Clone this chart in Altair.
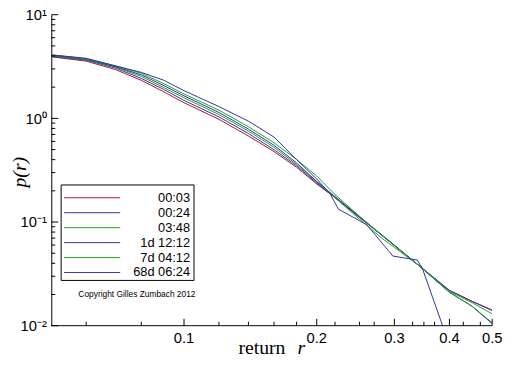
import altair as alt
import pandas as pd

series_names = ["00:03", "00:24", "03:48", "1d 12:12", "7d 04:12", "68d 06:24"]
series_colors = ["#b0102e", "#3232a0", "#20a020", "#3232a0", "#20a020", "#3232a0"]

x_grid = [0.05, 0.06, 0.07, 0.08, 0.09, 0.1, 0.12, 0.14, 0.16, 0.18, 0.2,
          0.22, 0.25, 0.28, 0.3, 0.34, 0.4, 0.45, 0.5]
y_0003 = [3.93, 3.565, 2.95, 2.33, 1.80, 1.415, 0.979, 0.676, 0.478, 0.3375, 0.233,
          0.172, 0.1114, 0.0754, 0.0594, 0.0384, 0.0219, 0.0172, 0.01416]
y_0024 = [3.97, 3.64, 3.05, 2.43, 1.90, 1.49, 1.034, 0.714, 0.499, 0.349, 0.238,
          0.172, 0.111, 0.0754, 0.0594, 0.0384, 0.0219, 0.0172, 0.0140]
y_0348 = [4.02, 3.68, 3.12, 2.54, 1.98, 1.58, 1.09, 0.754, 0.527, 0.360, 0.244,
          0.172, 0.1067, 0.0707, 0.0569, 0.0384, 0.0214, 0.0167, 0.0130]
y_1d = [4.06, 3.72, 3.15, 2.63, 2.07, 1.65, 1.14, 0.787, 0.550, 0.372, 0.246,
        0.176, 0.1126, 0.0762, 0.0600, 0.0384, 0.0210, 0.0154, 0.01044]
y_7d = [4.10, 3.76, 3.21, 2.72, 2.16, 1.72, 1.20, 0.831, 0.581, 0.402, 0.278,
        0.184, 0.1138, 0.0754, 0.0594, 0.0384, 0.0210, 0.0154, 0.01068]
x_68d = [0.05, 0.06, 0.07, 0.08, 0.09, 0.1, 0.12, 0.14, 0.16, 0.18, 0.2, 0.214,
         0.224, 0.26, 0.2975, 0.338, 0.347, 0.39]
y_68d = [4.10, 3.80, 3.20, 2.78, 2.33, 1.85, 1.30, 0.94, 0.66, 0.40, 0.26, 0.19,
         0.133, 0.094, 0.047, 0.043, 0.036, 0.0088]

x_labels = [0.1, 0.2, 0.3, 0.4, 0.5]
x_label_text = ["0.1", "0.2", "0.3", "0.4", "0.5"]
x_minor = [0.06, 0.08, 0.12, 0.14, 0.16, 0.18, 0.22, 0.25, 0.27, 0.33, 0.35, 0.37, 0.43, 0.47]
y_major = [0.01, 0.1, 1, 10]
y_minor = [0.02, 0.03, 0.04, 0.05, 0.06, 0.07, 0.08, 0.09,
           0.2, 0.3, 0.4, 0.5, 0.6, 0.7, 0.8, 0.9,
           2, 3, 4, 5, 6, 7, 8, 9]

rows = []
for name, ys in zip(series_names[:5], [y_0003, y_0024, y_0348, y_1d, y_7d]):
    for i, (xv, yv) in enumerate(zip(x_grid, ys)):
        rows.append({"series": name, "x": xv, "y": yv, "o": i})
for i, (xv, yv) in enumerate(zip(x_68d, y_68d)):
    rows.append({"series": series_names[5], "x": xv, "y": yv, "o": i})
df = pd.DataFrame(rows)

W, H = 448, 316


def xs():
    return alt.Scale(type="log", domain=[0.05, 0.5], nice=False, zero=False)


def ys():
    return alt.Scale(type="log", domain=[0.01, 10], nice=False, zero=False)


cs = alt.Scale(domain=series_names, range=series_colors)

label_expr = ("datum.value >= 5 ? '10\u00b9' : datum.value >= 0.5 ? '10\u2070' : "
              "datum.value >= 0.05 ? '10\u207b\u00b9' : '10\u207b\u00b2'")

lines = alt.Chart(df).mark_line(strokeWidth=1, clip=True).encode(
    x=alt.X("x:Q", scale=xs(), axis=None),
    y=alt.Y("y:Q", scale=ys(), axis=alt.Axis(values=y_major, ticks=False, grid=False,
                                              labelExpr=label_expr, title=None,
                                              labelPadding=5, labelFontSize=15,
                                              labelFont="Liberation Sans",
                                              labelColor="black", domainColor="black")),
    color=alt.Color("series:N", scale=cs, legend=None),
    order="o:Q",
)

x_domain = alt.Chart(pd.DataFrame({"a": [0]})).mark_rule(color="black", strokeWidth=1).encode(
    x=alt.value(0), x2=alt.value(W), y=alt.value(H))
x_text = alt.Chart(pd.DataFrame({"tx": x_labels, "lab": x_label_text})).mark_text(
    baseline="top", align="center", fontSize=15, font="Liberation Sans", color="black").encode(
    x=alt.X("tx:Q", scale=xs(), axis=None), y=alt.value(H + 6), text="lab:N")

tick_y_minor = alt.Chart(pd.DataFrame({"ty": y_minor})).mark_rule(color="black", strokeWidth=1).encode(
    y=alt.Y("ty:Q", scale=ys(), axis=None), x=alt.value(0), x2=alt.value(4))
tick_y_major = alt.Chart(pd.DataFrame({"ty": y_major})).mark_rule(color="black", strokeWidth=1).encode(
    y=alt.Y("ty:Q", scale=ys(), axis=None), x=alt.value(0), x2=alt.value(7))
tick_x_minor = alt.Chart(pd.DataFrame({"tx": x_minor})).mark_rule(color="black", strokeWidth=1).encode(
    x=alt.X("tx:Q", scale=xs(), axis=None), y=alt.value(H - 4), y2=alt.value(H))
tick_x_major = alt.Chart(pd.DataFrame({"tx": x_labels})).mark_rule(color="black", strokeWidth=1).encode(
    x=alt.X("tx:Q", scale=xs(), axis=None), y=alt.value(H - 7), y2=alt.value(H))

leg_df = pd.DataFrame({"series": series_names})
leg_box = alt.Chart(pd.DataFrame({"a": [0]})).mark_rect(
    fill="white", stroke="black", strokeWidth=1).encode(
    x=alt.value(10), x2=alt.value(145), y=alt.value(173), y2=alt.value(270))
ly = alt.Scale(type="point", domain=series_names, range=[186, 262], padding=0)
leg_lines = alt.Chart(leg_df).mark_rule(strokeWidth=1).encode(
    y=alt.Y("series:N", scale=ly, axis=None),
    x=alt.value(13), x2=alt.value(70),
    color=alt.Color("series:N", scale=cs, legend=None))
leg_text = alt.Chart(leg_df).mark_text(align="right", baseline="middle", fontSize=13,
                                       font="Liberation Sans", color="black").encode(
    y=alt.Y("series:N", scale=ly, axis=None), x=alt.value(141), text="series:N")
copyright = alt.Chart(pd.DataFrame({"a": [0]})).mark_text(
    text="Copyright Gilles Zumbach 2012", fontSize=8.5, font="Liberation Sans",
    align="center", baseline="middle", color="black").encode(
    x=alt.value(87), y=alt.value(284))

xtitle1 = alt.Chart(pd.DataFrame({"a": [0]})).mark_text(
    text="return", fontSize=20, font="Liberation Serif", align="center",
    baseline="alphabetic", color="black").encode(x=alt.value(214), y=alt.value(345))
xtitle2 = alt.Chart(pd.DataFrame({"a": [0]})).mark_text(
    text="r", fontSize=20, font="Liberation Serif", fontStyle="italic", align="center",
    baseline="alphabetic", color="black").encode(x=alt.value(254), y=alt.value(345))
ytitle = alt.Chart(pd.DataFrame({"a": [0]})).mark_text(
    text="p(r)", fontSize=20, font="Liberation Serif", fontStyle="italic", angle=270,
    align="center", baseline="middle", color="black").encode(x=alt.value(-32), y=alt.value(160))

chart = alt.layer(
    lines, x_domain, x_text, tick_x_minor, tick_x_major, tick_y_minor, tick_y_major,
    leg_box, leg_lines, leg_text, copyright, xtitle1, xtitle2, ytitle
).resolve_scale(x="independent", y="independent").properties(
    width=W, height=H,
    autosize=alt.AutoSizeParams(type="none"),
    padding={"left": 44, "top": 4, "right": 12, "bottom": 30},
    background="white",
).configure_view(stroke=None)

chart.save("out.html", embed_options={"renderer": "svg", "actions": False})
